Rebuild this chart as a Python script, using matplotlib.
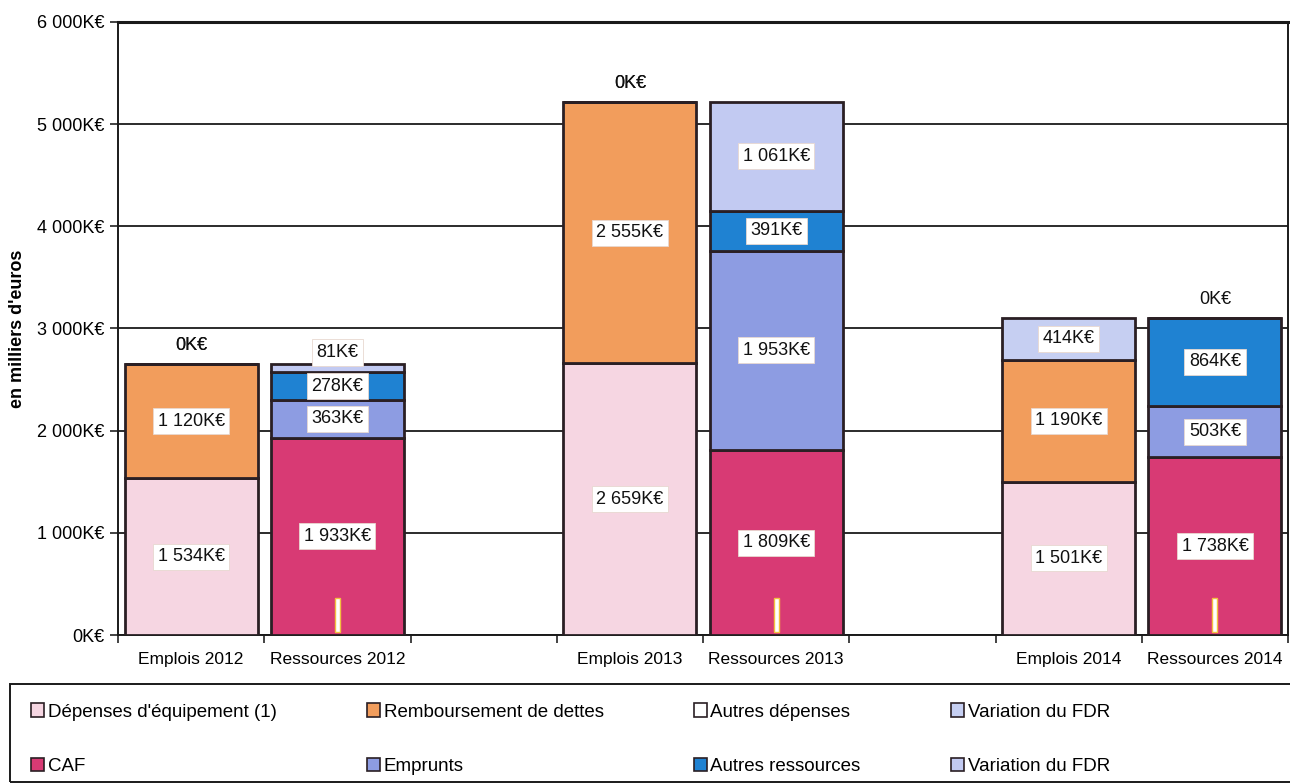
import numpy as np
import matplotlib
matplotlib.use("Agg")
import matplotlib.pyplot as plt
from matplotlib.patches import Patch, Rectangle

plt.rcParams['font.family'] = ['Liberation Sans', 'DejaVu Sans']

# Category slots along the x axis (empty slots separate the years)
categories = ["Emplois 2012", "Ressources 2012", "",
              "Emplois 2013", "Ressources 2013", "",
              "Emplois 2014", "Ressources 2014"]
emplois_slots = [0, 3, 6]
ressources_slots = [1, 4, 7]

# Emplois (K€) for 2012, 2013, 2014
depenses_equipement = [1534, 2659, 1501]
remboursement_dettes = [1120, 2555, 1190]
autres_depenses = [0, 0, 0]
variation_fdr_emplois = [0, 0, 414]

# Ressources (K€) for 2012, 2013, 2014
caf = [1933, 1809, 1738]
emprunts = [363, 1953, 503]
autres_ressources = [278, 391, 864]
variation_fdr_ressources = [81, 1061, 0]

yticks = [0, 1000, 2000, 3000, 4000, 5000, 6000]

c_dep = "#f6d6e2"
c_remb = "#f29d5c"
c_autd = "#ffffff"
c_fdr1 = "#c6cff2"
c_caf = "#d83a74"
c_emp = "#8d9ce2"
c_autr = "#1f82d2"
c_fdr2 = "#c2caf2"

emplois_series = [
    ("Dépenses d'équipement (1)", depenses_equipement, c_dep),
    ("Remboursement de dettes", remboursement_dettes, c_remb),
    ("Autres dépenses", autres_depenses, c_autd),
    ("Variation du FDR", variation_fdr_emplois, c_fdr1),
]
ressources_series = [
    ("CAF", caf, c_caf),
    ("Emprunts", emprunts, c_emp),
    ("Autres ressources", autres_ressources, c_autr),
    ("Variation du FDR", variation_fdr_ressources, c_fdr2),
]


def fmt(v):
    return f"{v:,}".replace(",", " ") + "K€"


fig = plt.figure(figsize=(12.9, 7.84), dpi=100)
ax = fig.add_axes([0.0915, 0.190, 0.907, 0.782])

width = 0.91
edge = "#2a1f24"
box = dict(boxstyle="square,pad=0.25", facecolor="white", edgecolor="#e8d8d0", linewidth=0.6)


def draw_stack(slots, series):
    n = len(slots)
    bottoms = np.zeros(n)
    segs = []  # (bottom, value) per series per bar
    for name, vals, col in series:
        vals = np.asarray(vals, dtype=float)
        ax.bar(slots, vals, width=width, bottom=bottoms, color=col,
               edgecolor=edge, linewidth=2.0, zorder=3)
        segs.append((bottoms.copy(), vals))
        bottoms = bottoms + vals
    totals = bottoms
    for j, x in enumerate(slots):
        for k, (b, v) in enumerate(segs):
            val = v[j]
            if val >= 150:
                y = b[j] + val / 2
            else:
                # thin or empty segment: label sits on the next non-empty
                # segment above it, or above the bar when there is none
                y = None
                if val == 0:
                    for bb, vv in segs[k + 1:]:
                        if vv[j] >= 150:
                            y = bb[j] + vv[j] / 2
                            break
                if y is None:
                    y = totals[j] + (180 if val == 0 else 110)
            on_top = y > totals[j]
            ax.text(x, y, fmt(int(val)), ha="center", va="center",
                    fontsize=13, color="#111111", zorder=5,
                    bbox=None if on_top and val == 0 else box)
    return totals


draw_stack(emplois_slots, emplois_series)
draw_stack(ressources_slots, ressources_series)

# small blank label boxes near the foot of the CAF columns
ax.bar(ressources_slots, [330] * 3, bottom=30, width=0.035, color="white",
       edgecolor="#f2c040", linewidth=1.0, zorder=4)

ax.set_xlim(-0.5, len(categories) - 0.5)
ax.set_ylim(0, 6000)
ax.set_yticks(yticks)
ax.set_yticklabels([fmt(v) for v in yticks], fontsize=13)
ax.set_xticks(np.arange(len(categories)))
ax.set_xticklabels(categories, fontsize=12.5)
ax.set_xticks(np.arange(len(categories) + 1) - 0.5, minor=True)
ax.tick_params(axis="x", which="major", length=0, pad=12)
ax.tick_params(axis="x", which="minor", length=6, width=1.2, color="#222222")
ax.tick_params(axis="y", length=6, width=1.2, color="#222222", pad=4)

ax.yaxis.grid(True, color="#1a1a1a", linewidth=1.3, zorder=0)
ax.set_axisbelow(True)
for s in ["left", "bottom", "right"]:
    ax.spines[s].set_linewidth(1.4)
    ax.spines[s].set_color("#1a1a1a")
ax.spines["top"].set_linewidth(2.2)
ax.spines["top"].set_color("#1a1a1a")

ax.set_ylabel("en milliers d'euros", fontsize=13, fontweight="bold")
ax.yaxis.set_label_coords(-0.079, 0.50)

# legend frame spanning the figure width
fig.patches.append(Rectangle((0.008, 0.002), 0.995, 0.125, transform=fig.transFigure,
                             facecolor="none", edgecolor="#1a1a1a", linewidth=1.4))

# legend, filled column by column so rows read emplois / ressources
handles = []
for (n1, _, c1), (n2, _, c2) in zip(emplois_series, ressources_series):
    handles.append(Patch(facecolor=c1, edgecolor=edge, linewidth=1.2, label=n1))
    handles.append(Patch(facecolor=c2, edgecolor=edge, linewidth=1.2, label=n2))
leg = fig.legend(handles=handles, loc="center left", ncol=4,
                 bbox_to_anchor=(0.024, 0.057),
                 fontsize=13.5, frameon=False,
                 handlelength=0.7, handleheight=0.7, handletextpad=0.2,
                 columnspacing=4.8, labelspacing=2.0, borderaxespad=0.0,
                 borderpad=0.0)

fig.savefig("out.png", dpi=100, facecolor="white")
